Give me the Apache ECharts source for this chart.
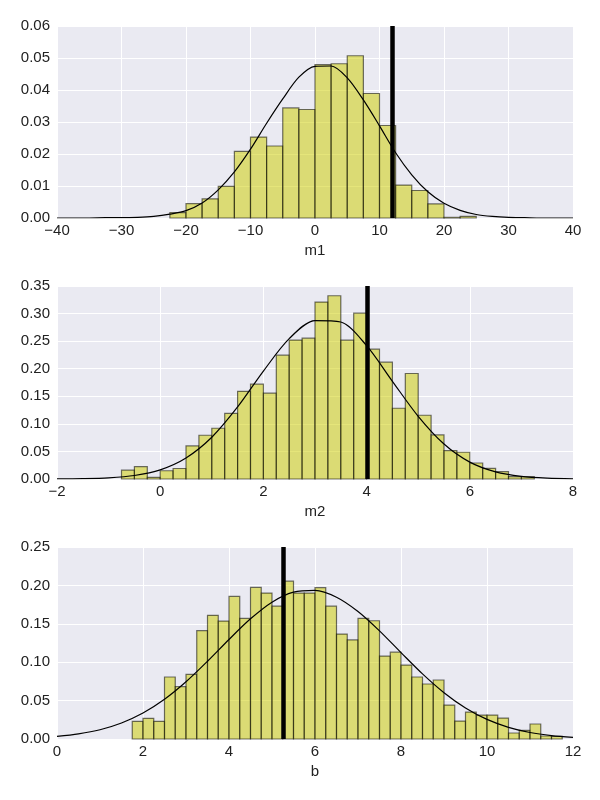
<!DOCTYPE html>
<html>
<head>
<meta charset="utf-8">
<script src="https://cdn.jsdelivr.net/npm/echarts@6/dist/echarts.min.js"></script>
<style>
  html, body { margin: 0; padding: 0; background: #fff; }
  #main { width: 600px; height: 800px; }
</style>
</head>
<body>
<div id="main"></div>
<script>
// histogram bins: first left edge, bin width, heights
var m1BinStart = -22.5, m1BinWidth = 2.5;
var m1Heights = [0.0017, 0.0045, 0.006, 0.0099, 0.0208, 0.0253, 0.0225, 0.0344, 0.0339,
  0.0479, 0.0482, 0.0507, 0.0389, 0.0289, 0.0103, 0.0086, 0.0044, 0.0002, 0.0005];

var m2BinStart = -0.75, m2BinWidth = 0.25;
var m2Heights = [0.016, 0.0224, 0.003, 0.015, 0.019, 0.06, 0.0793, 0.092, 0.119, 0.159,
  0.172, 0.1556, 0.2246, 0.252, 0.2554, 0.3208, 0.3323, 0.2518, 0.3008, 0.2355, 0.2119,
  0.1283, 0.1913, 0.1156, 0.0799, 0.0515, 0.0485, 0.029, 0.0191, 0.0133, 0.0042, 0.0042];

var bBinStart = 1.75, bBinWidth = 0.25;
var bHeights = [0.023, 0.0269, 0.023, 0.0807, 0.0681, 0.0841, 0.141, 0.161, 0.1535, 0.1856,
  0.157, 0.1973, 0.19, 0.173, 0.2055, 0.19, 0.19, 0.197, 0.173, 0.1366, 0.129, 0.157, 0.154,
  0.108, 0.113, 0.0963, 0.0807, 0.0716, 0.0768, 0.0442, 0.0234, 0.0351, 0.0312, 0.0312,
  0.0273, 0.0078, 0.0113, 0.0195, 0.0039, 0.0035];

// fitted curves at regular steps
var m1CurveStart = -40, m1CurveStep = 2.5;
var m1Curve = [0, 0, 0, 0.0001, 0.0001, 0.0002, 0.0005, 0.0012, 0.0023, 0.0047, 0.0088,
  0.0144, 0.0215, 0.0296, 0.0372, 0.044, 0.0474, 0.0475, 0.0438, 0.0369, 0.0288, 0.0204,
  0.0135, 0.0082, 0.0046, 0.0024, 0.0011, 0.0005, 0.0002, 0.0001, 0, 0, 0];

var m2CurveStart = -2, m2CurveStep = 0.5;
var m2Curve = [0.0001, 0.0006, 0.0021, 0.0063, 0.0166, 0.0381, 0.0757, 0.1306, 0.1957,
  0.2545, 0.2873, 0.2847, 0.2418, 0.1772, 0.1137, 0.0634, 0.0306, 0.0129, 0.0047, 0.0015, 0.0004];

var bCurveStart = 0, bCurveStep = 0.5;
var bCurve = [0.0034, 0.0067, 0.0121, 0.0209, 0.0338, 0.0517, 0.0745, 0.1012, 0.1296, 0.1565,
  0.1782, 0.1912, 0.1935, 0.1846, 0.166, 0.1408, 0.1125, 0.0848, 0.0603, 0.0404, 0.0255,
  0.0152, 0.0085, 0.0045, 0.0022];

// true values (thick vertical lines)
var m1True = 11.9, m2True = 4.02, bTrue = 5.27;

var names = ["m1", "m2", "b"];

var myChart = echarts.init(document.getElementById("main"));

var FONT = "Liberation Sans, Arial, sans-serif";
var TEXT = "#222";

function bins(start, width, heights) {
  return heights.map(function (h, i) {
    return [start + i * width, start + (i + 1) * width, h];
  });
}
function curve(start, step, values) {
  return values.map(function (v, i) {
    return [start + i * step, v];
  });
}

function renderBin(params, api) {
  var p0 = api.coord([api.value(0), api.value(2)]);
  var p1 = api.coord([api.value(1), 0]);
  return {
    type: "rect",
    shape: { x: p0[0], y: p0[1], width: p1[0] - p0[0], height: p1[1] - p0[1] },
    style: { fill: "rgba(206,206,0,0.52)", stroke: "rgba(0,0,0,0.55)", lineWidth: 1.2 },
  };
}

var grids = [
  { left: 57, width: 516, top: 26, height: 192 },
  { left: 57, width: 516, top: 286, height: 193 },
  { left: 57, width: 516, top: 547, height: 192 },
];
var xRanges = [[-40, 40, 10], [-2, 8, 2], [0, 12, 2]];
var yRanges = [[0, 0.06, 0.01], [0, 0.35, 0.05], [0, 0.25, 0.05]];

var panels = [
  { bins: bins(m1BinStart, m1BinWidth, m1Heights), curve: curve(m1CurveStart, m1CurveStep, m1Curve), line: m1True },
  { bins: bins(m2BinStart, m2BinWidth, m2Heights), curve: curve(m2CurveStart, m2CurveStep, m2Curve), line: m2True },
  { bins: bins(bBinStart, bBinWidth, bHeights), curve: curve(bCurveStart, bCurveStep, bCurve), line: bTrue },
];

var option = {
  animation: false,
  grid: grids.map(function (g) {
    return Object.assign({ show: true, backgroundColor: "#EAEAF2", borderWidth: 0 }, g);
  }),
  xAxis: xRanges.map(function (r, i) {
    return {
      type: "value",
      gridIndex: i,
      min: r[0],
      max: r[1],
      interval: r[2],
      name: names[i],
      nameLocation: "middle",
      nameGap: 25,
      nameTextStyle: { fontFamily: FONT, fontSize: 15, color: TEXT },
      axisLine: { show: false },
      axisTick: { show: false },
      axisLabel: {
        margin: 5,
        fontFamily: FONT,
        fontSize: 15,
        color: TEXT,
        formatter: function (v) {
          return String(v).replace("-", "\u2212");
        },
      },
      splitLine: { show: true, lineStyle: { color: "#fff", width: 1 } },
    };
  }),
  yAxis: yRanges.map(function (r, i) {
    return {
      type: "value",
      gridIndex: i,
      min: r[0],
      max: r[1],
      interval: r[2],
      axisLine: { show: false },
      axisTick: { show: false },
      axisLabel: {
        margin: 7,
        fontFamily: FONT,
        fontSize: 15,
        color: TEXT,
        formatter: function (v) {
          return v.toFixed(2);
        },
      },
      splitLine: { show: true, lineStyle: { color: "#fff", width: 1 } },
    };
  }),
  series: [],
};

panels.forEach(function (p, i) {
  option.series.push({
    type: "custom",
    xAxisIndex: i,
    yAxisIndex: i,
    renderItem: renderBin,
    encode: { x: [0, 1], y: 2 },
    data: p.bins,
    z: 2,
  });
  option.series.push({
    type: "line",
    xAxisIndex: i,
    yAxisIndex: i,
    data: p.curve,
    showSymbol: false,
    smooth: 0.3,
    lineStyle: { color: "#000", width: 1.2 },
    z: 3,
    markLine: {
      silent: true,
      symbol: ["none", "none"],
      label: { show: false },
      lineStyle: { color: "#000", width: 4.5, type: "solid" },
      data: [{ xAxis: p.line }],
    },
  });
});

myChart.setOption(option);
</script>
</body>
</html>
